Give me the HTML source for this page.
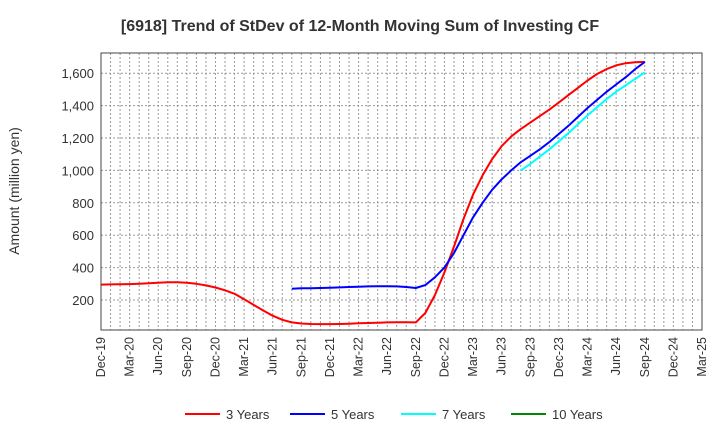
<!DOCTYPE html>
<html><head><meta charset="utf-8"><style>
body{margin:0;background:#fff;font-family:"Liberation Sans",sans-serif;}
</style></head><body>
<svg id="c" width="720" height="440" xmlns="http://www.w3.org/2000/svg" font-family="Liberation Sans, sans-serif">
<text x="360" y="31" text-anchor="middle" font-size="16" font-weight="bold" fill="#333">[6918]  Trend of StDev of 12-Month Moving Sum of Investing CF</text>
<text transform="translate(19,191) rotate(-90)" text-anchor="middle" font-size="14" fill="#333">Amount (million yen)</text>
<g id="grid"></g><g id="series"></g><g id="axes"></g>
<g font-size="13" fill="#333">
<line x1="185" y1="414" x2="220" y2="414" stroke="#f00" stroke-width="2"/><text x="226" y="419">3 Years</text>
<line x1="290" y1="414" x2="325" y2="414" stroke="#00f" stroke-width="2"/><text x="331" y="419">5 Years</text>
<line x1="401" y1="414" x2="436" y2="414" stroke="#0ff" stroke-width="2"/><text x="442" y="419">7 Years</text>
<line x1="511" y1="414" x2="546" y2="414" stroke="#080" stroke-width="2"/><text x="552" y="419">10 Years</text>
</g>
</svg>
<script>
const xLabels=["Dec-19","Mar-20","Jun-20","Sep-20","Dec-20","Mar-21","Jun-21","Sep-21","Dec-21","Mar-22","Jun-22","Sep-22","Dec-22","Mar-23","Jun-23","Sep-23","Dec-23","Mar-24","Jun-24","Sep-24","Dec-24","Mar-25"];
const yTicks=[200,400,600,800,1000,1200,1400,1600];
const red=[295,296,297,298,300,303,307,309,310,306,300,290,277,260,238,205,170,135,103,78,62,55,52,51,51,52,54,56,58,60,62,63,63,62,120,230,370,530,700,850,970,1070,1150,1210,1255,1295,1335,1375,1420,1465,1510,1555,1595,1625,1648,1662,1668,1670];
const blueStart=20;
const blue=[270,272,273,274,276,278,280,282,284,285,285,284,280,274,292,340,400,490,600,710,800,880,945,1000,1050,1090,1130,1175,1225,1275,1330,1385,1435,1485,1530,1575,1625,1670];
const cyanStart=44;
const cyan=[1000,1040,1085,1130,1180,1230,1285,1340,1390,1440,1485,1525,1565,1605];
const NS="http://www.w3.org/2000/svg";
const L=101,R=702,T=53,B=330,months=63;
const xs=m=>L+m*(R-L)/months;
const ys=v=>332.4-v*0.162;
function mk(t,a,p){const e=document.createElementNS(NS,t);for(const k in a)e.setAttribute(k,a[k]);p.appendChild(e);return e;}
const grid=document.getElementById('grid'),axes=document.getElementById('axes'),ser=document.getElementById('series');
for(let m=1;m<months;m++){const g=mk('line',{x1:xs(m),x2:xs(m),y1:T,y2:B,stroke:'#999','stroke-dasharray':'2,2','stroke-width':1},grid);

}
yTicks.forEach(v=>{const g=mk('line',{x1:L,x2:R,y1:ys(v),y2:ys(v),stroke:'#999','stroke-dasharray':'2,2','stroke-width':1},grid);


const t=mk('text',{x:L-7,y:ys(v)+5,'text-anchor':'end','font-size':13,fill:'#333'},axes);t.textContent=v.toLocaleString('en-US');

});
xLabels.forEach((s,i)=>{const x=xs(i*3);const t=mk('text',{transform:`translate(${x+4},337) rotate(-90)`,'text-anchor':'end','font-size':12.5,fill:'#333'},axes);t.textContent=s;

});
const fr=mk('rect',{x:L,y:T,width:R-L,height:B-T,fill:'none',stroke:'#444','stroke-width':1},axes);


function line(arr,start,col,name){const d=arr.map((v,i)=>(i?'L':'M')+xs(start+i).toFixed(1)+','+ys(v).toFixed(1)).join('');
const p=mk('path',{d:d,fill:'none',stroke:col,'stroke-width':2,'stroke-linejoin':'round'},ser);

}
line(red,0,'#f00','series-3-years');
line(blue,blueStart,'#00f','series-5-years');
line(cyan,cyanStart,'#0ff','series-7-years');
</script>
</body></html>
